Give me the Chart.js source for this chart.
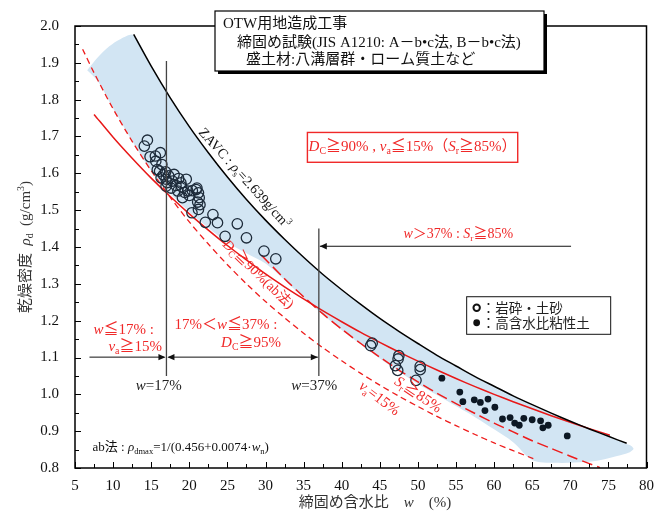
<!DOCTYPE html>
<html lang="ja">
<head>
<meta charset="UTF-8">
<title>OTW用地造成工事 締固め試験</title>
<script src="https://cdn.jsdelivr.net/npm/chart.js"></script>
<style>
  * { margin: 0; padding: 0; box-sizing: border-box; }
  body { background: #fff; width: 663px; height: 515px; overflow: hidden; }
  canvas { display: block; }
</style>
</head>
<body>
<canvas id="myChart" width="663" height="515"></canvas>
<script>
// 岩砕・土砂 (open circles)
const openW = [14.5, 14.1, 14.85, 15.55, 16.2, 15.6, 16.4, 16.1, 16.9, 16.3, 16.95, 16.95, 18.0, 18.6, 17.8,
  18.25, 19.0, 19.6, 18.5, 19.1, 19.8, 20.9, 21.2, 21.3, 21.1, 21.2, 20.35, 22.1, 23.1, 23.7, 24.7, 26.3, 27.5,
  29.8, 31.35, 17.3, 17.6, 18.9, 20.0, 19.4, 21.0, 20.4, 17.1, 15.8, 16.6, 21.4,
  44.0, 43.8, 47.5, 47.4, 47.05, 47.35, 50.3, 50.3, 49.75];
const openRho = [1.690, 1.674, 1.645, 1.647, 1.656, 1.633, 1.624, 1.606, 1.604, 1.588, 1.584, 1.565, 1.597, 1.586, 1.579,
  1.567, 1.564, 1.584, 1.552, 1.534, 1.552, 1.556, 1.547, 1.534, 1.522, 1.502, 1.493, 1.467, 1.488, 1.466, 1.429, 1.463, 1.425,
  1.389, 1.368, 1.593, 1.560, 1.574, 1.540, 1.548, 1.560, 1.553, 1.575, 1.610, 1.596, 1.515,
  1.139, 1.132, 1.105, 1.096, 1.078, 1.065, 1.076, 1.067, 1.038];

// 高含水比粘性土 (filled dots)
const fillW = [53.15, 55.5, 55.9, 57.4, 58.2, 59.2, 58.8, 60.1, 61.1, 62.1, 62.7, 63.3, 63.9, 65.0, 66.1, 67.1, 66.4, 69.6];
const fillRho = [1.044, 1.006, 0.980, 0.985, 0.978, 0.987, 0.956, 0.965, 0.933, 0.937, 0.922, 0.916, 0.935, 0.931, 0.928, 0.916, 0.909, 0.887];

// ZAVC (rho_s = 2.639)
const zavcW = [12.7, 15, 17.5, 20, 22.5, 25, 27.5, 30, 32.5, 35, 37.5, 40, 42.5, 45, 47.5, 50, 52.5, 55, 57.5, 60, 62.5, 65, 67.5, 70, 72.5, 75, 77.4];
const zavcRho = [1.977, 1.891, 1.805, 1.727, 1.656, 1.590, 1.529, 1.473, 1.421, 1.372, 1.326, 1.284, 1.244, 1.206, 1.171, 1.138, 1.106, 1.077, 1.048, 1.022, 0.996, 0.972, 0.949, 0.927, 0.906, 0.886, 0.867];

// Dc >= 90% (ab法)
const dcW = [7.5, 10, 12.5, 15, 17.5, 20, 22.5, 25, 27.5, 30, 32.5, 35, 37.5, 40, 42.5, 45, 47.5, 50, 52.5, 55, 57.5, 60, 62.5, 65, 67.5, 70, 72.5, 75.2];
const dcRho = [1.760, 1.698, 1.641, 1.587, 1.537, 1.490, 1.446, 1.404, 1.365, 1.327, 1.292, 1.259, 1.227, 1.197, 1.168, 1.141, 1.115, 1.090, 1.066, 1.043, 1.021, 1.000, 0.980, 0.961, 0.942, 0.924, 0.907, 0.889];

// va = 15%
const vaW = [6, 7.5, 10, 12.5, 15, 17.5, 20, 22.5, 25, 27.5, 30, 32.5, 35, 37.5, 40, 42.5, 45, 47.5, 50, 52.5, 55, 57.5, 60, 62.5, 65.2];
const vaRho = [1.937, 1.873, 1.775, 1.687, 1.607, 1.535, 1.468, 1.408, 1.352, 1.300, 1.252, 1.208, 1.166, 1.127, 1.091, 1.057, 1.025, 0.995, 0.967, 0.940, 0.915, 0.891, 0.868, 0.847, 0.825];

// Sr = 85%
const srW = [29.5, 32.5, 35, 37.5, 40, 42.5, 45, 47.5, 50, 52.5, 55, 57.5, 60, 62.5, 65, 67.5, 70, 72.5, 73.9];
const srRho = [1.377, 1.314, 1.265, 1.219, 1.177, 1.138, 1.101, 1.066, 1.034, 1.003, 0.975, 0.948, 0.922, 0.898, 0.874, 0.853, 0.832, 0.812, 0.801];

// range of test results (light blue band, closed outline)
const bandW = [6.6, 8, 9.5, 11, 12.7, 15, 17.5, 20, 22.5, 25, 27.5, 30, 35, 40, 45, 50, 55, 60, 65, 70, 75, 77.4,
  78, 78.3, 77.8, 76, 74, 72, 68, 65, 62.5, 60, 57.5, 55, 52.5, 50, 47.5, 45, 42.5, 40, 37.5, 35, 32.5, 30,
  27.5, 25, 22.5, 20, 17.5, 15, 12.5, 10, 8, 6.6];
const bandRho = [1.880, 1.915, 1.945, 1.965, 1.975, 1.889, 1.803, 1.725, 1.654, 1.588, 1.527, 1.471, 1.370, 1.282, 1.204, 1.136, 1.075, 1.020, 0.970, 0.925, 0.884, 0.865,
  0.860, 0.852, 0.843, 0.832, 0.822, 0.816, 0.814, 0.822, 0.870, 0.905, 0.938, 0.968, 0.998, 1.028, 1.062, 1.097, 1.136, 1.175, 1.217, 1.263, 1.310, 1.355,
  1.383, 1.412, 1.452, 1.495, 1.545, 1.607, 1.688, 1.776, 1.850, 1.880];

// axis ticks
const xTicks = [5, 10, 15, 20, 25, 30, 35, 40, 45, 50, 55, 60, 65, 70, 75, 80];
const yTicks = [0.8, 0.9, 1.0, 1.1, 1.2, 1.3, 1.4, 1.5, 1.6, 1.7, 1.8, 1.9, 2.0];

// boundary w values (17%, 37%)
const wLimits = [17, 37];

const SERIF = "'Liberation Serif', 'Noto Sans CJK JP', serif";
const SANS = "'Noto Sans CJK JP', 'Noto Sans', sans-serif";
const RED = '#f02828';

function pts(xs, ys) { return xs.map((v, i) => ({ x: v, y: ys[i] })); }

// draw text made of runs (italic / subscript / superscript)
function rich(ctx, runs, x, y, size, color, align, ff) {
  let total = 0;
  const parts = runs.map(r => {
    const s = (r.sub || r.sup) ? size * 0.66 : size;
    const f = (r.it ? 'italic ' : '') + s + 'px ' + (r.ff || ff || SERIF);
    ctx.font = f;
    const m = ctx.measureText(r.t).width;
    total += m;
    return { r, f, m };
  });
  let cx = align === 'center' ? x - total / 2 : align === 'right' ? x - total : x;
  ctx.fillStyle = color;
  ctx.textAlign = 'left';
  ctx.textBaseline = 'middle';
  parts.forEach(p => {
    ctx.font = p.f;
    const dy = p.r.sub ? size * 0.3 : p.r.sup ? -size * 0.32 : 0;
    ctx.fillText(p.r.t, cx, y + dy);
    cx += p.m;
  });
}

function richRot(ctx, runs, x, y, deg, size, color) {
  ctx.save();
  ctx.translate(x, y);
  ctx.rotate(deg * Math.PI / 180);
  rich(ctx, runs, 0, 0, size, color, 'center');
  ctx.restore();
}

function arrowHead(ctx, x, y, dir) {
  ctx.beginPath();
  ctx.moveTo(x, y);
  ctx.lineTo(x - dir * 7, y - 3.2);
  ctx.lineTo(x - dir * 7, y + 3.2);
  ctx.closePath();
  ctx.fill();
}

const deco = {
  id: 'deco',
  afterDatasetsDraw(chart) {
    const ctx = chart.ctx;
    const xs = chart.scales.x, ys = chart.scales.y;
    const a = chart.chartArea;
    const px = v => xs.getPixelForValue(v);
    const py = v => ys.getPixelForValue(v);

    ctx.save();
    // w = 17%, 37% lines
    ctx.strokeStyle = '#444';
    ctx.lineWidth = 1.3;
    ctx.beginPath();
    ctx.moveTo(px(wLimits[0]), py(1.905)); ctx.lineTo(px(wLimits[0]), py(1.05));
    ctx.moveTo(px(wLimits[1]), py(1.45)); ctx.lineTo(px(wLimits[1]), py(1.05));
    ctx.stroke();

    // arrows
    ctx.strokeStyle = '#111';
    ctx.fillStyle = '#111';
    ctx.lineWidth = 1;
    const yA = py(1.101), yB = py(1.402);
    ctx.beginPath();
    ctx.moveTo(px(6.9), yA); ctx.lineTo(px(17) - 2, yA);
    ctx.moveTo(px(17) + 2, yA); ctx.lineTo(px(37) - 1, yA);
    ctx.moveTo(px(70.1), yB); ctx.lineTo(px(37) + 1, yB);
    ctx.stroke();
    arrowHead(ctx, px(17) - 1, yA, 1);
    arrowHead(ctx, px(17) + 1, yA, -1);
    arrowHead(ctx, px(37) - 1, yA, 1);
    arrowHead(ctx, px(37) + 1, yB, -1);

    // labels of the ranges
    rich(ctx, [{ t: 'w', it: true }, { t: '≦17% :' }], px(11.4), py(1.105) - 26, 15, RED, 'center');
    rich(ctx, [{ t: 'v', it: true }, { t: 'a', sub: true }, { t: '≧15%' }], px(12.9), py(1.105) - 9, 15, RED, 'center');
    rich(ctx, [{ t: '17%＜' }, { t: 'w', it: true }, { t: '≦37% :' }], px(24.8), py(1.105) - 31, 15, RED, 'center');
    rich(ctx, [{ t: 'D', it: true }, { t: 'C', sub: true }, { t: '≧95%' }], px(28.1), py(1.105) - 13, 15, RED, 'center');
    rich(ctx, [{ t: 'w', it: true }, { t: '＞37% : ' }, { t: 'S', it: true }, { t: 'r', sub: true }, { t: '≧85%' }], px(55.3), py(1.435), 14, RED, 'center');
    rich(ctx, [{ t: 'w', it: true }, { t: '=17%' }], px(16.0), py(1.05) + 10, 15, '#222', 'center');
    rich(ctx, [{ t: 'w', it: true }, { t: '=37%' }], px(36.4), py(1.05) + 10, 15, '#222', 'center');

    // red criteria box
    const bx0 = px(35.5), bx1 = px(63.1), by0 = py(1.711), by1 = py(1.63);
    ctx.strokeStyle = RED;
    ctx.lineWidth = 1.4;
    ctx.strokeRect(bx0, by0, bx1 - bx0, by1 - by0);
    rich(ctx, [{ t: 'D', it: true }, { t: 'C', sub: true }, { t: '≧90% , ' }, { t: 'v', it: true }, { t: 'a', sub: true },
      { t: '≦15%（' }, { t: 'S', it: true }, { t: 'r', sub: true }, { t: '≧85%）' }], (bx0 + bx1) / 2, (by0 + by1) / 2, 15, RED, 'center');

    // rotated curve labels
    richRot(ctx, [{ t: 'ZAVC : ' }, { t: 'ρ', it: true }, { t: 's', sub: true }, { t: '=2.639g/cm' }, { t: '3', sup: true }],
      px(27.2), py(1.586), 48, 14, '#111');
    richRot(ctx, [{ t: 'D', it: true }, { t: 'C', sub: true }, { t: '≧90%(ab法)' }], px(29.0), py(1.325), 44, 14, RED);
    richRot(ctx, [{ t: 'S', it: true }, { t: 'r', sub: true }, { t: '≧85%' }], px(50.0), py(0.998), 34, 15, RED);
    richRot(ctx, [{ t: 'v', it: true }, { t: 'a', sub: true }, { t: '=15%' }], px(44.9), py(0.988), 37, 15, RED);

    // ab法 formula
    rich(ctx, [{ t: 'ab法 : ' }, { t: 'ρ', it: true }, { t: 'dmax', sub: true }, { t: '=1/(0.456+0.0074·' }, { t: 'w', it: true }, { t: 'n', sub: true }, { t: ')' }],
      px(7.3), py(0.855), 13, '#111', 'left');

    // legend
    const lx0 = px(56.4), lx1 = px(75.3), ly0 = py(1.265), ly1 = py(1.163);
    ctx.fillStyle = '#fff';
    ctx.fillRect(lx0, ly0, lx1 - lx0, ly1 - ly0);
    ctx.strokeStyle = '#111';
    ctx.lineWidth = 1;
    ctx.strokeRect(lx0, ly0, lx1 - lx0, ly1 - ly0);
    ctx.lineWidth = 2;
    ctx.beginPath(); ctx.arc(lx0 + 10, ly0 + 11, 3.2, 0, Math.PI * 2); ctx.stroke();
    ctx.fillStyle = '#111';
    ctx.beginPath(); ctx.arc(lx0 + 10, ly0 + 26, 3.4, 0, Math.PI * 2); ctx.fill();
    rich(ctx, [{ t: '：岩砕・土砂' }], lx0 + 15, ly0 + 11, 13.5, '#222', 'left', SANS);
    rich(ctx, [{ t: '：高含水比粘性土' }], lx0 + 15, ly0 + 26, 13.5, '#222', 'left', SANS);

    // inner ticks
    ctx.strokeStyle = '#000';
    ctx.lineWidth = 1;
    ctx.beginPath();
    for (let v = 5; v <= 80.01; v += 2.5) {
      const x = Math.round(px(v)) + 0.5;
      const len = (Math.round(v * 2) % 10 === 0) ? 6 : 4;
      ctx.moveTo(x, a.bottom); ctx.lineTo(x, a.bottom - len);
    }
    for (let k = 16; k <= 40; k++) {
      const y = Math.round(py(k * 0.05)) + 0.5;
      const len = (k % 2 === 0) ? 6 : 4;
      ctx.moveTo(a.left, y); ctx.lineTo(a.left + len, y);
    }
    ctx.stroke();

    // frame
    ctx.lineWidth = 1.5;
    ctx.strokeRect(a.left, a.top, a.right - a.left, a.bottom - a.top);

    // title box with shadow
    const tx0 = 215, ty0 = 11, tw = 329, th = 60;
    ctx.fillStyle = '#000';
    ctx.fillRect(tx0 + 3, ty0 + 3, tw, th);
    ctx.fillStyle = '#fff';
    ctx.fillRect(tx0, ty0, tw, th);
    ctx.lineWidth = 1.2;
    ctx.strokeRect(tx0, ty0, tw, th);
    rich(ctx, [{ t: 'OTW用地造成工事' }], tx0 + 8, ty0 + 13, 15, '#111', 'left');
    rich(ctx, [{ t: '締固め試験(JIS A1210: A－b•c法, B－b•c法)' }], tx0 + 22, ty0 + 32, 15, '#111', 'left');
    rich(ctx, [{ t: '盛土材:八溝層群・ローム質土など' }], tx0 + 31, ty0 + 49, 15, '#111', 'left');

    // axis titles
    ctx.save();
    ctx.translate(26, (a.top + a.bottom) / 2);
    ctx.rotate(-Math.PI / 2);
    rich(ctx, [{ t: '乾燥密度  ' }, { t: 'ρ', it: true }, { t: 'd', sub: true }, { t: '  (g/cm' }, { t: '3', sup: true }, { t: ')' }],
      0, 0, 15, '#333', 'center');
    ctx.restore();
    rich(ctx, [{ t: '締固め含水比    ' }, { t: 'w', it: true }, { t: '    (%)' }], 375, 503, 15, '#333', 'center');
    ctx.restore();
  }
};

const ctx = document.getElementById('myChart').getContext('2d');
new Chart(ctx, {
  type: 'scatter',
  data: {
    datasets: [
      { label: '岩砕・土砂', data: pts(openW, openRho), pointRadius: 5.2, pointBorderWidth: 1.3,
        pointBorderColor: '#1d2b3a', pointBackgroundColor: 'rgba(255,255,255,0)', order: 0 },
      { label: '高含水比粘性土', data: pts(fillW, fillRho), pointRadius: 3.4, pointBorderWidth: 0,
        pointBackgroundColor: '#0c1824', order: 0 },
      { label: 'ZAVC', data: pts(zavcW, zavcRho), showLine: true, borderColor: '#000', borderWidth: 1.5,
        pointRadius: 0, tension: 0.3, order: 2 },
      { label: 'Dc90', data: pts(dcW, dcRho), showLine: true, borderColor: '#e81818', borderWidth: 1.5,
        pointRadius: 0, tension: 0.3, order: 2 },
      { label: 'va15', data: pts(vaW, vaRho), showLine: true, borderColor: '#ee1c1c', borderWidth: 1.3,
        borderDash: [6, 4], pointRadius: 0, tension: 0.3, order: 2 },
      { label: 'Sr85', data: pts(srW, srRho), showLine: true, borderColor: '#ee1c1c', borderWidth: 1.5,
        borderDash: [11, 5], pointRadius: 0, tension: 0.3, order: 2 },
      { label: 'band', data: pts(bandW, bandRho), showLine: true, fill: 'shape', backgroundColor: '#d2e5f3',
        borderWidth: 0, borderColor: 'rgba(0,0,0,0)', pointRadius: 0, tension: 0.3, order: 9 }
    ]
  },
  options: {
    responsive: false,
    animation: false,
    devicePixelRatio: 1,
    layout: { padding: { top: 26, right: 15, left: 0, bottom: 0 } },
    scales: {
      x: {
        type: 'linear', min: 5, max: 80,
        afterFit: s => { s.height = 47; },
        afterBuildTicks: s => { s.ticks = xTicks.map(v => ({ value: v })); },
        grid: { display: false, drawTicks: false },
        border: { display: false },
        ticks: { padding: 9, color: '#111', font: { family: SERIF, size: 15 }, maxRotation: 0 }
      },
      y: {
        type: 'linear', min: 0.8, max: 2.0,
        afterFit: s => { s.width = 75; },
        afterBuildTicks: s => { s.ticks = yTicks.map(v => ({ value: v })); },
        grid: { display: false, drawTicks: false },
        border: { display: false },
        ticks: { padding: 16, color: '#111', font: { family: SERIF, size: 15 }, callback: v => Number(v).toFixed(1) }
      }
    },
    plugins: {
      legend: { display: false },
      tooltip: { enabled: false }
    }
  },
  plugins: [deco]
});
</script>
</body>
</html>
